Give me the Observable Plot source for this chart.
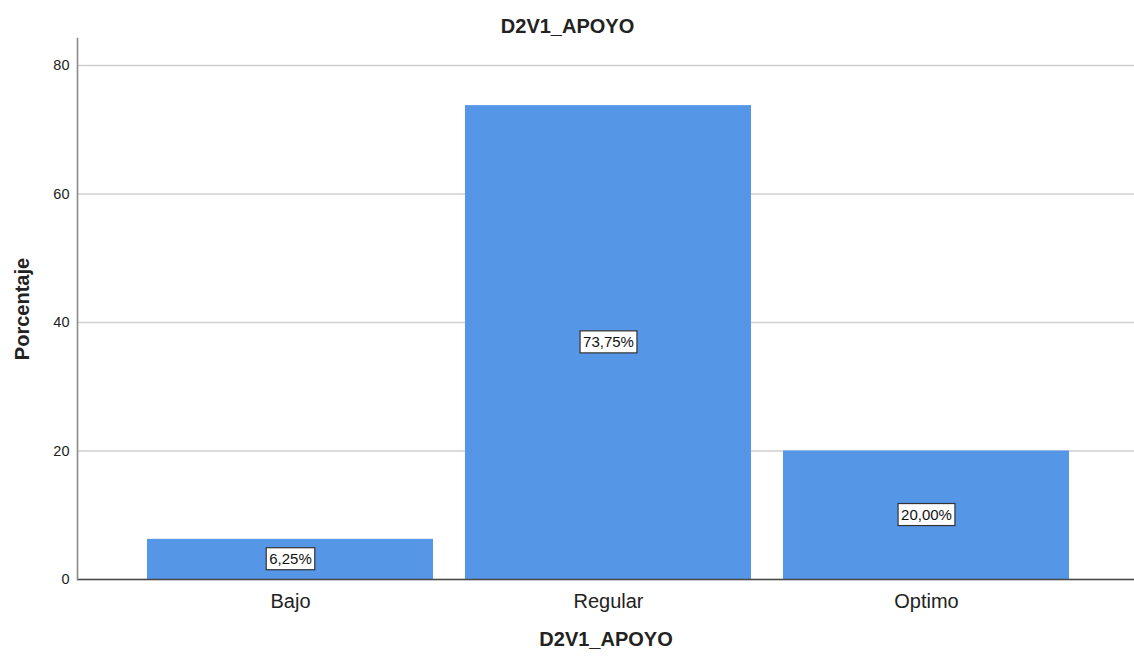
<!DOCTYPE html>
<html>
<head>
<meta charset="utf-8">
<script src="https://cdn.jsdelivr.net/npm/d3@7"></script>
<script src="https://cdn.jsdelivr.net/npm/@observablehq/plot@0.6"></script>
<style>
  html, body { margin: 0; padding: 0; background: #fff; }
  #chart svg { display: block; }
</style>
</head>
<body>
<div id="chart"></div>
<script>
const chartTitle = "D2V1_APOYO";
const xTitle = "D2V1_APOYO";
const yTitle = "Porcentaje";
const categories = ["Bajo", "Regular", "Optimo"];
const percentages = [6.25, 73.75, 20.00];
const valueLabels = ["6,25%", "73,75%", "20,00%"];
const yTicks = [0, 20, 40, 60, 80];

const data = categories.map((c, i) => ({category: c, value: percentages[i], label: valueLabels[i]}));
const font = "'Liberation Sans', Arial, Helvetica, sans-serif";

const chart = Plot.plot({
  width: 1134,
  height: 659,
  marginLeft: 77,
  marginRight: 0,
  marginTop: 38,
  marginBottom: 80,
  style: {fontFamily: font, background: "#fff", color: "#222"},
  x: {domain: categories, paddingInner: 0.1, paddingOuter: 0.21, align: 0.52, label: null},
  y: {domain: [0, 84.2], label: null},
  marks: [
    Plot.gridY(yTicks, {stroke: "#cfcfcf", strokeOpacity: 1, strokeWidth: 1.6}),
    Plot.barY(data, {x: "category", y: "value", fill: "#5596e6"}),
    Plot.ruleY([0], {stroke: "#4a4a4a", strokeWidth: 1.5}),
    Plot.frame({anchor: "left", stroke: "#8a8a8a", strokeWidth: 1.6}),
    Plot.axisY(yTicks, {tickSize: 0, tickPadding: 8, fontSize: 14.5, label: null, fill: "#222"}),
    Plot.axisX({tickSize: 0, tickPadding: 14, fontSize: 20, label: null, fill: "#222"}),
    Plot.text(data, {x: "category", y: d => d.value / 2, text: "label", fontSize: 15, fill: "#111", className: "vlabel"}),
    Plot.text([chartTitle], {frameAnchor: "top-left", dx: 490, dy: -20, textAnchor: "middle", fontSize: 20, fontWeight: "bold", fill: "#222"}),
    Plot.text([xTitle], {frameAnchor: "bottom", dy: 66, fontSize: 20, fontWeight: "bold", fill: "#222"}),
    Plot.text([yTitle], {frameAnchor: "left", dx: -55, rotate: -90, textAnchor: "middle", fontSize: 20, fontWeight: "bold", fill: "#222"})
  ]
});

document.getElementById("chart").appendChild(chart);

// white boxes with border behind the value labels
document.querySelectorAll("g.vlabel text").forEach(t => {
  const b = t.getBBox();
  const r = document.createElementNS("http://www.w3.org/2000/svg", "rect");
  r.setAttribute("x", b.x - 3);
  r.setAttribute("y", b.y - 2.5);
  r.setAttribute("width", b.width + 6);
  r.setAttribute("height", b.height + 5);
  r.setAttribute("fill", "#fff");
  r.setAttribute("stroke", "#333");
  r.setAttribute("stroke-width", "1.2");
  const tr = t.getAttribute("transform");
  if (tr) r.setAttribute("transform", tr);
  t.parentNode.insertBefore(r, t);
});
</script>
</body>
</html>
